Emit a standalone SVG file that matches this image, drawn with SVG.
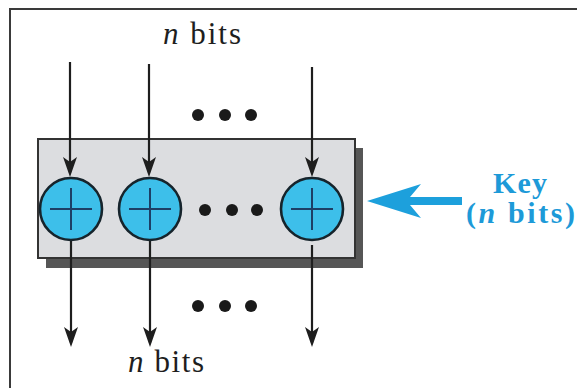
<svg xmlns="http://www.w3.org/2000/svg" width="577" height="388" viewBox="0 0 577 388">
  <defs>
    <style>
      .frame { fill: none; stroke: #3a3a3a; stroke-width: 2; }
      .wire { stroke: #1e1e1e; stroke-width: 2.2; fill: none; }
      .xor { fill: #3dbfea; stroke: #16242c; stroke-width: 2.6; }
      .plus { stroke: #1d3f66; stroke-width: 2; }
      .dot { fill: #1a1a1a; }
      .lbl { font-family: "Liberation Serif", "Times New Roman", serif; font-size: 31px; fill: #1e1e1e; }
      .key { font-family: "Liberation Serif", "Times New Roman", serif; font-size: 30px; font-weight: bold; fill: #1d9ad8; }
    </style>
    <marker id="ah" viewBox="0 0 20 14" refX="16" refY="7" markerWidth="20" markerHeight="14" markerUnits="userSpaceOnUse" orient="auto">
      <path d="M0,0 L20,7 L0,14 L5,7 Z" fill="#1e1e1e"/>
    </marker>
  </defs>
  <rect width="577" height="388" fill="#ffffff"/>
  <path class="frame" d="M10,388 V9 H577"/>

  <g id="xor-block">
    <rect x="46" y="148" width="317" height="120" fill="#565656"/>
    <rect x="38" y="139" width="317" height="119" fill="#dcdde0" stroke="#333" stroke-width="2"/>
  </g>

  <g id="connectors">
    <line class="wire" x1="70" y1="62" x2="70" y2="173" marker-end="url(#ah)"/>
    <line class="wire" x1="149" y1="64" x2="149" y2="173" marker-end="url(#ah)"/>
    <line class="wire" x1="312" y1="67" x2="312" y2="173" marker-end="url(#ah)"/>
    <line class="wire" x1="71" y1="241" x2="71" y2="343" marker-end="url(#ah)"/>
    <line class="wire" x1="150" y1="241" x2="150" y2="343" marker-end="url(#ah)"/>
    <line class="wire" x1="312" y1="245" x2="312" y2="343" marker-end="url(#ah)"/>
    <path id="key-arrow" d="M367,201 L421,184 L410,197 L462,197 L462,205 L410,205 L421,218 Z" fill="#1da0dc"/>
  </g>

  <g id="xor1">
    <circle class="xor" cx="71" cy="209" r="31"/>
    <line class="plus" x1="50" y1="209" x2="92" y2="209"/>
    <line class="plus" x1="71" y1="188" x2="71" y2="230"/>
  </g>
  <g id="xor2">
    <circle class="xor" cx="150" cy="209" r="31"/>
    <line class="plus" x1="129" y1="209" x2="171" y2="209"/>
    <line class="plus" x1="150" y1="188" x2="150" y2="230"/>
  </g>
  <g id="xor3">
    <circle class="xor" cx="312" cy="209" r="31"/>
    <line class="plus" x1="291" y1="209" x2="333" y2="209"/>
    <line class="plus" x1="312" y1="188" x2="312" y2="230"/>
  </g>

  <g id="dots-top">
    <circle class="dot" cx="198" cy="115" r="6"/>
    <circle class="dot" cx="225" cy="115" r="6"/>
    <circle class="dot" cx="251" cy="115" r="6"/>
  </g>
  <g id="dots-mid">
    <circle class="dot" cx="205" cy="210" r="6"/>
    <circle class="dot" cx="232" cy="210" r="6"/>
    <circle class="dot" cx="257" cy="210" r="6"/>
  </g>
  <g id="dots-bottom">
    <circle class="dot" cx="198" cy="306" r="6"/>
    <circle class="dot" cx="225" cy="306" r="6"/>
    <circle class="dot" cx="251" cy="306" r="6"/>
  </g>

  <g id="label-top">
    <text class="lbl" x="163" y="44" textLength="78" lengthAdjust="spacing"><tspan font-style="italic">n</tspan> bits</text>
  </g>
  <g id="label-bottom">
    <text class="lbl" x="128" y="372" textLength="76" lengthAdjust="spacing"><tspan font-style="italic">n</tspan> bits</text>
  </g>
  <g id="key">
    <text class="key" x="493" y="193" textLength="54" lengthAdjust="spacing">Key</text>
    <text class="key" x="466" y="223" textLength="109" lengthAdjust="spacing">(<tspan font-style="italic">n</tspan> bits)</text>
  </g>
</svg>
